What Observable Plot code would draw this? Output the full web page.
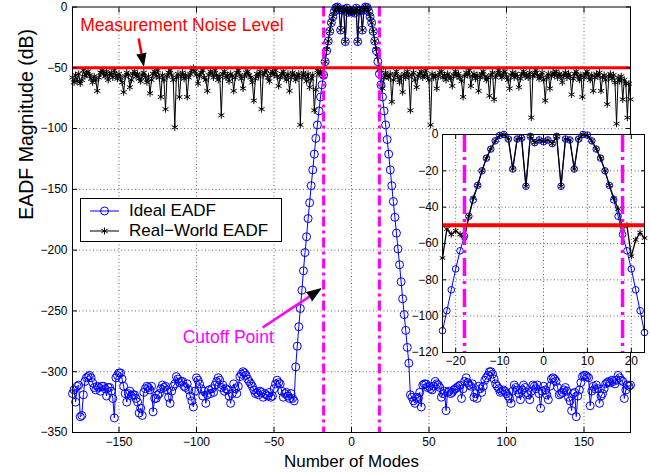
<!DOCTYPE html>
<html>
<head>
<meta charset="utf-8">
<script src="https://cdn.jsdelivr.net/npm/d3@7"></script>
<script src="https://cdn.jsdelivr.net/npm/@observablehq/plot@0.6"></script>
<style>
  html, body { margin: 0; padding: 0; background: #fff; overflow: hidden; }
  #wrap { position: relative; width: 650px; height: 474px; font-family: "Liberation Sans", Arial, Helvetica, sans-serif; }
  #wrap > svg, #wrap > figure { position: absolute; margin: 0; }
  #legend { position: absolute; left: 80px; top: 198px; width: 202px; height: 44px; border: 1px solid #000; background: #fff; box-sizing: border-box; }
  #legend .row { position: absolute; left: 0; height: 20px; width: 200px; }
  #legend .row svg { position: absolute; left: 0; top: 0; }
  #legend .row span { position: absolute; left: 48px; top: 0; line-height: 20px; font-size: 17px; color: #000; white-space: nowrap; }
</style>
</head>
<body>
<div id="wrap"></div>
<script>
// ---------------- data ----------------
const xTicks = [-150, -100, -50, 0, 50, 100, 150];
const yTicks = [0, -50, -100, -150, -200, -250, -300, -350];
const yGrid = [-50, -100, -150, -200, -250, -300];
const insetXTicks = [-20, -10, 0, 10, 20];
const insetYTicks = [0, -20, -40, -60, -80, -100, -120];
const insetYGrid = [-20, -40, -60, -80, -100];
const noiseLevel = [-50];
const cutoffModes = [-18, 18];
const seriesNames = ["Ideal EADF", "Real\u2212World EADF"];

// Ideal EADF (dB), modes -180 .. -37
const idealNoiseLeft = [
  -318, -315, -325, -312, -311, -337, -336, -319, -308, -305,
  -304, -303, -305, -309, -313, -315, -312, -313, -316, -312,
  -312, -314, -320, -313, -313, -316, -322, -338, -305, -303,
  -301, -301, -306, -312, -318, -325, -318, -316, -320, -319,
  -319, -322, -325, -334, -330, -336, -317, -314, -312, -313,
  -315, -312, -333, -322, -322, -319, -318, -314, -311, -313,
  -312, -315, -321, -326, -316, -312, -310, -304, -306, -309,
  -308, -308, -312, -313, -310, -315, -320, -324, -329, -316,
  -305, -307, -310, -314, -320, -316, -326, -319, -315, -318,
  -314, -317, -311, -308, -305, -307, -313, -311, -316, -314,
  -315, -320, -326, -318, -310, -314, -318, -312, -304, -302,
  -300, -301, -303, -306, -308, -310, -312, -315, -318, -317,
  -319, -316, -317, -321, -318, -319, -320, -317, -321, -320,
  -314, -310, -307, -309, -310, -316, -321, -318, -317, -320,
  -322, -318, -322, -324
];
// Ideal EADF (dB), modes -36 .. 37
const idealLobe = [
  -296, -279, -263, -248, -233, -217, -202, -189, -174, -161, -147, -134, -121, -108,
  -97, -85.5, -74, -64, -56, -45, -36, -28, -20, -13, -8, -3.5,
  -0.5, 0, -2.5, -19, -2.5, -2, -28.5, -1, -4.5, -3, -4, -3, -5, -1, -28.5, -2.5, -3, -19, -2.5, 0, -0.3,
  -3.5, -8, -13, -20, -28, -36, -45, -55, -64, -74, -85.5, -97, -109,
  -121, -134, -147, -160, -173, -186, -199, -212, -226, -240, -253, -266, -280, -293
];
// Ideal EADF (dB), modes 38 .. 180
const idealNoiseRight = [
  -319, -321, -324, -326, -321, -322, -317, -329, -311, -310,
  -310, -313, -312, -314, -315, -312, -308, -310, -311, -313,
  -321, -318, -316, -332, -317, -316, -318, -317, -315, -314,
  -313, -312, -311, -322, -314, -308, -305, -309, -311, -312,
  -310, -321, -318, -322, -312, -314, -317, -312, -307, -305,
  -303, -300, -300, -302, -306, -310, -312, -314, -317, -316,
  -315, -316, -318, -320, -322, -326, -316, -311, -313, -315,
  -318, -323, -315, -311, -313, -317, -319, -323, -316, -311,
  -312, -314, -311, -318, -330, -316, -312, -315, -319, -323,
  -312, -306, -305, -306, -308, -313, -319, -318, -317, -315,
  -313, -316, -321, -324, -332, -318, -317, -337, -320, -315,
  -309, -304, -303, -303, -304, -305, -328, -316, -312, -314,
  -311, -314, -326, -320, -318, -314, -310, -309, -308, -309,
  -307, -308, -310, -307, -303, -305, -307, -308, -322, -315,
  -311, -312, -311
];

// Real-World EADF (dB), modes -180 .. -24
const realLeft = [
  -58, -62, -56, -61, -55, -63, -60, -52, -57, -55,
  -53, -56, -59, -62, -57, -60, -69, -58, -54, -52,
  -55, -57, -53, -60, -56, -54, -58, -52, -56, -59,
  -55, -58, -62, -70, -57, -54, -56, -66, -60, -55,
  -53, -57, -55, -59, -61, -56, -54, -58, -62, -57,
  -71, -60, -55, -53, -57, -52, -58, -74, -56, -60,
  -84, -57, -54, -52, -56, -60, -99, -58, -55, -74,
  -57, -54, -59, -56, -74, -58, -55, -52, -50, -53,
  -56, -63, -57, -54, -52, -58, -60, -69, -56, -53,
  -55, -58, -52, -56, -60, -57, -89, -55, -53, -58,
  -56, -61, -55, -57, -69, -58, -54, -52, -56, -59,
  -67, -57, -54, -53, -56, -58, -62, -77, -59, -55,
  -57, -53, -84, -56, -54, -52, -58, -61, -55, -53,
  -56, -52, -57, -65, -58, -55, -53, -57, -60, -55,
  -69, -58, -54, -56, -60, -57, -55, -97, -58, -54,
  -57, -61, -55, -66, -59, -56, -85
];
// Real-World EADF (dB), modes -23 .. 23
const realLobe = [
  -68, -52, -55, -53, -55, -57,
  -45, -35, -28, -20, -13, -8, -3.5,
  -0.5, 0, -2.5, -19, -2.5, -2, -28.5, -1, -4.5, -3, -4, -3, -5, -1, -28.5, -2.5, -3, -19, -2.5, 0, -0.5,
  -3.5, -8, -13, -20, -28, -35, -41,
  -52, -50, -67, -58, -54, -57
];
// Real-World EADF (dB), modes 24 .. 180
const realRight = [
  -58, -55, -78, -60, -56, -53, -58, -62, -57, -70,
  -55, -58, -53, -57, -85, -56, -54, -60, -66, -57,
  -55, -53, -58, -56, -52, -57, -60, -97, -55, -58,
  -56, -67, -57, -54, -53, -58, -56, -60, -55, -57,
  -59, -65, -56, -53, -57, -55, -58, -61, -74, -57,
  -54, -56, -52, -65, -57, -55, -59, -56, -69, -58,
  -55, -53, -57, -60, -58, -73, -56, -54, -76, -58,
  -55, -52, -56, -58, -54, -53, -57, -60, -67, -56,
  -54, -58, -55, -57, -66, -59, -55, -53, -57, -56,
  -58, -54, -91, -57, -55, -52, -56, -59, -57, -54,
  -60, -77, -58, -55, -67, -57, -54, -56, -53, -58,
  -55, -57, -62, -56, -54, -58, -55, -57, -72, -59,
  -55, -53, -57, -60, -56, -74, -58, -55, -53, -57,
  -60, -56, -69, -58, -55, -57, -54, -69, -58, -56,
  -60, -80, -57, -55, -59, -56, -62, -96, -58, -61,
  -57, -76, -60, -63, -91, -63, -76
];

// annotations (data coordinates)
const noiseNote = [{x: -175, y: -15, text: "Measurement Noise Level"}];
const cutoffNote = [{x: -79.5, y: -271.5, text: "Cutoff Point"}];
const noiseArrow = [{x1: -137.3, y1: -25.9, x2: -135.5, y2: -38.4, tx: -134.1, ty: -48.1, angle: 169.5}];
const cutoffArrow = [{x1: -57.3, y1: -263.6, x2: -27.2, y2: -238.2, tx: -19.8, ty: -231.8, angle: 56}];

// ---------------- build tables ----------------
function build(segments) {
  const out = [];
  for (const [start, vals] of segments) vals.forEach((v, i) => out.push({mode: start + i, db: v}));
  return out;
}
const idealData = build([[-180, idealNoiseLeft], [-36, idealLobe], [38, idealNoiseRight]]);
const realData = build([[-180, realLeft], [-23, realLobe], [24, realRight]]);
const insetIdeal = idealData.filter(d => d.mode >= -23 && d.mode <= 23);
const insetReal = realData.filter(d => d.mode >= -23 && d.mode <= 23);

const BLUE = "#0000ff", RED = "#ff0000", MAGENTA = "#ff00ff";
const fontFamily = '"Liberation Sans", Arial, Helvetica, sans-serif';
const gridStyle = {stroke: "#000", strokeOpacity: 0.6, strokeDasharray: "1,2.5", strokeWidth: 1};

// ---------------- main chart ----------------
const main = Plot.plot({
  width: 650, height: 474,
  marginLeft: 72, marginRight: 20, marginTop: 6.5, marginBottom: 42,
  style: {fontFamily, fontSize: "12px", background: "transparent", color: "#000", overflow: "visible"},
  x: {domain: [-180, 180]},
  y: {domain: [-350, 0]},
  marks: [
    Plot.gridX(xTicks, gridStyle),
    Plot.gridY(yGrid, gridStyle),
    Plot.line(idealData, {x: "mode", y: "db", stroke: BLUE, strokeWidth: 1}),
    Plot.dot(idealData, {x: "mode", y: "db", r: 4, symbol: "circle", stroke: BLUE, fill: "none", strokeWidth: 1}),
    Plot.line(realData, {x: "mode", y: "db", stroke: "#000", strokeWidth: 1}),
    Plot.dot(realData, {x: "mode", y: "db", r: 3.3, symbol: "asterisk", stroke: "#000", strokeWidth: 1}),
    Plot.ruleY(noiseLevel, {stroke: RED, strokeWidth: 3}),
    Plot.ruleX(cutoffModes, {stroke: MAGENTA, strokeWidth: 3, strokeDasharray: "10,4,3,4"}),
    Plot.link(noiseArrow, {x1: "x1", y1: "y1", x2: "x2", y2: "y2", stroke: RED, strokeWidth: 2.5}),
    Plot.link(cutoffArrow, {x1: "x1", y1: "y1", x2: "x2", y2: "y2", stroke: MAGENTA, strokeWidth: 2.5}),
    Plot.vector(noiseArrow, {x: "tx", y: "ty", rotate: "angle", length: 12, r: 4.5, shape: "spike", anchor: "end", fill: "#000", stroke: "#000", strokeWidth: 1}),
    Plot.vector(cutoffArrow, {x: "tx", y: "ty", rotate: "angle", length: 14, r: 5, shape: "spike", anchor: "end", fill: "#000", stroke: "#000", strokeWidth: 1}),
    Plot.text(noiseNote, {x: "x", y: "y", text: "text", fill: RED, fontSize: 17.5, textAnchor: "start"}),
    Plot.text(cutoffNote, {x: "x", y: "y", text: "text", fill: MAGENTA, fontSize: 17.5, textAnchor: "middle"}),
    Plot.frame({stroke: "#000", strokeWidth: 1}),
    Plot.axisX(xTicks, {anchor: "bottom", tickSize: 0, tickPadding: 5, label: null}),
    Plot.axisX(xTicks, {anchor: "bottom", tickSize: -5, fill: "none", label: null}),
    Plot.axisX(xTicks, {anchor: "top", tickSize: -5, fill: "none", label: null}),
    Plot.axisY(yTicks, {anchor: "left", tickSize: 0, tickPadding: 5, label: null}),
    Plot.axisY(yTicks, {anchor: "left", tickSize: -5, fill: "none", label: null}),
    Plot.axisY(yTicks, {anchor: "right", tickSize: -5, fill: "none", label: null}),
    Plot.text(["Number of Modes"], {frameAnchor: "bottom", dy: 34, fontSize: 17, fill: "#000"}),
    Plot.text(["EADF Magnitude (dB)"], {frameAnchor: "left", dx: -46, rotate: -90, fontSize: 19.5, fill: "#000"})
  ]
});
main.style.left = "0px";
main.style.top = "0px";

// ---------------- inset ----------------
const inset = Plot.plot({
  width: 246, height: 246,
  marginLeft: 40, marginRight: 4, marginTop: 4, marginBottom: 24,
  style: {fontFamily, fontSize: "12px", background: "transparent", color: "#000", overflow: "visible"},
  x: {domain: [-23, 23]},
  y: {domain: [-120, 0]},
  marks: [
    Plot.frame({fill: "#fff", stroke: "none"}),
    Plot.gridX(insetXTicks, gridStyle),
    Plot.gridY(insetYGrid, gridStyle),
    Plot.line(insetIdeal, {x: "mode", y: "db", stroke: BLUE, strokeWidth: 1}),
    Plot.dot(insetIdeal, {x: "mode", y: "db", r: 3.3, symbol: "circle", stroke: BLUE, fill: "none", strokeWidth: 1}),
    Plot.line(insetReal, {x: "mode", y: "db", stroke: "#000", strokeWidth: 1.3}),
    Plot.dot(insetReal, {x: "mode", y: "db", r: 3, symbol: "asterisk", stroke: "#000", strokeWidth: 1}),
    Plot.ruleY(noiseLevel, {stroke: RED, strokeWidth: 4}),
    Plot.ruleX(cutoffModes, {stroke: MAGENTA, strokeWidth: 3.5, strokeDasharray: "18,5,3,5"}),
    Plot.frame({stroke: "#000", strokeWidth: 1}),
    Plot.axisX(insetXTicks, {anchor: "bottom", tickSize: 0, tickPadding: 4, label: null}),
    Plot.axisX(insetXTicks, {anchor: "bottom", tickSize: -4, fill: "none", label: null}),
    Plot.axisX(insetXTicks, {anchor: "top", tickSize: -4, fill: "none", label: null}),
    Plot.axisY(insetYTicks, {anchor: "left", tickSize: 0, tickPadding: 4, label: null}),
    Plot.axisY(insetYTicks, {anchor: "left", tickSize: -4, fill: "none", label: null}),
    Plot.axisY(insetYTicks, {anchor: "right", tickSize: -4, fill: "none", label: null})
  ]
});
inset.style.left = "402px";
inset.style.top = "130px";

const wrap = document.getElementById("wrap");
wrap.appendChild(main);
wrap.appendChild(inset);

// ---------------- legend ----------------
const legend = d3.select(wrap).append("div").attr("id", "legend");
const legendStyles = [
  {color: BLUE, symbol: d3.symbolCircle, size: Math.PI * 16},
  {color: "#000", symbol: d3.symbolAsterisk, size: Math.PI * 3.3 * 3.3}
];
seriesNames.forEach((name, i) => {
  const row = legend.append("div").attr("class", "row").style("top", (2 + i * 20) + "px");
  const svg = row.append("svg").attr("width", 44).attr("height", 20);
  svg.append("line").attr("x1", 9).attr("x2", 38).attr("y1", 10).attr("y2", 10)
    .attr("stroke", legendStyles[i].color).attr("stroke-width", 1);
  svg.append("path").attr("transform", "translate(23.5,10)")
    .attr("d", d3.symbol(legendStyles[i].symbol, legendStyles[i].size)())
    .attr("fill", "none").attr("stroke", legendStyles[i].color).attr("stroke-width", 1);
  row.append("span").text(name);
});
</script>
</body>
</html>
